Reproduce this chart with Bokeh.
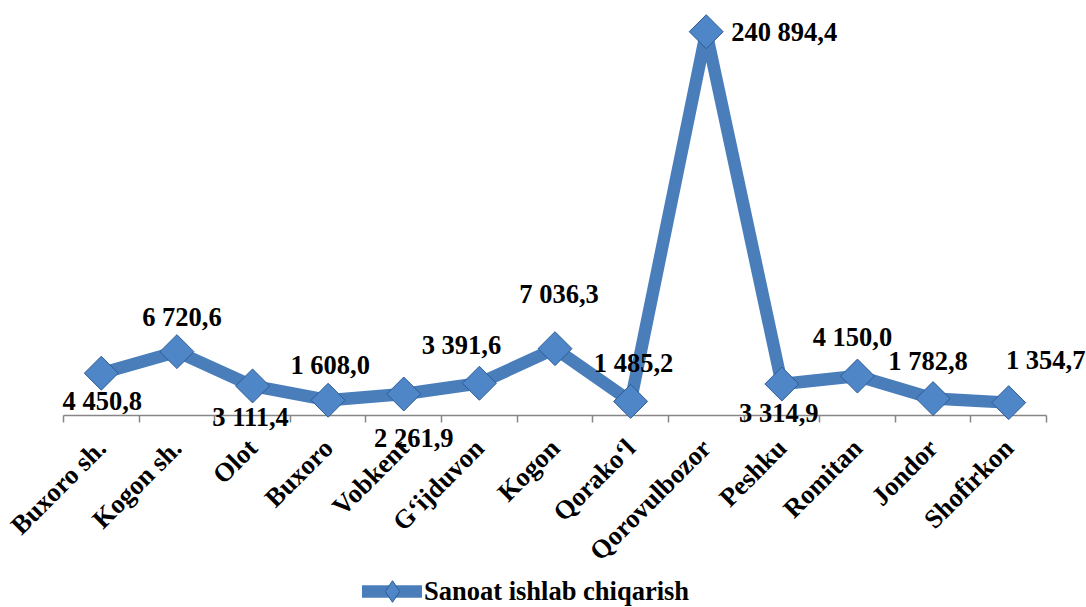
import math
from bokeh.plotting import figure
from bokeh.models import (ColumnDataSource, Range1d, FixedTicker,
                          Legend, LegendItem)
from bokeh.core.properties import value
from bokeh.embed import file_html
from bokeh.resources import INLINE

# ---- data -------------------------------------------------------------
categories = ["Buxoro sh.", "Kogon sh.", "Olot", "Buxoro", "Vobkent",
              "G\u2018ijduvon", "Kogon", "Qorako\u2018l", "Qorovulbozor",
              "Peshku", "Romitan", "Jondor", "Shofirkon"]
# heights as drawn in the picture (Qorovulbozor is drawn far lower than its printed label)
values = [4450.8, 6720.6, 3111.4, 1608.0, 2261.9, 3391.6, 7036.3, 1485.2,
          40400.0, 3314.9, 4150.0, 1782.8, 1354.7]
# printed data labels
value_labels = ["4 450,8", "6 720,6", "3 111,4", "1 608,0", "2 261,9",
                "3 391,6", "7 036,3", "1 485,2", "240 894,4", "3 314,9",
                "4 150,0", "1 782,8", "1 354,7"]
series_name = "Sanoat ishlab chiqarish"

# label placement (screen px offsets from the point, y down)
label_dx = [1, 5, -2, 2, 10, -18, 4, 3, 78, -3, -5, -5, 37]
label_dy = [28, -35, 31, -35, 44, -38, -55, -38, 0, 29, -39, -38, -43]

FONT = "Liberation Serif"
FSIZE = "26.5px"
BLUE = "#4A7EBB"
MARK_FILL = "#4F86C8"
MARK_LINE = "#2E5C94"

# layout (pixels): category pitch, axis position
W, H = 1086, 607
PLOT_LEFT, PLOT_RIGHT, AXIS_Y = 63, 1046, 415
PX_PER_UNIT = 0.0095

n = len(categories)
pitch = (PLOT_RIGHT - PLOT_LEFT) / n
x_start = -PLOT_LEFT / pitch
x_end = n + (W - PLOT_RIGHT) / pitch
y_end = AXIS_Y / PX_PER_UNIT
y_start = -(H - AXIS_Y) / PX_PER_UNIT

xs = [i + 0.5 for i in range(n)]
src = ColumnDataSource(dict(x=xs, y=values, lab=value_labels,
                            dx=label_dx, dy=label_dy))

p = figure(width=W, height=H, output_backend="svg", toolbar_location=None,
           x_range=Range1d(x_start, x_end), y_range=Range1d(y_start, y_end),
           min_border=0)
p.outline_line_color = None
p.xgrid.visible = False
p.ygrid.visible = False
p.yaxis.visible = False

line_r = p.line("x", "y", source=src, line_color=BLUE, line_width=12.5,
                line_join="round", line_cap="round", level="overlay")
# diamond marker used for the legend swatch (Bokeh draws legend markers
# unrotated); on the chart it sits fully under the rotated square markers
legend_mark = p.scatter("x", "y", source=src, marker="diamond", size=26,
                        fill_color=MARK_FILL, line_color=MARK_LINE,
                        line_width=1, level="overlay")
mark_r = p.scatter("x", "y", source=src, marker="square", angle=math.pi / 4,
                   size=24, fill_color=MARK_FILL, line_color=MARK_LINE,
                   line_width=1, level="overlay")

p.text("x", "y", text="lab", source=src, x_offset="dx", y_offset="dy",
       text_align="center", text_baseline="middle", text_font=value(FONT),
       text_font_style="bold", text_font_size=FSIZE, text_color="black",
       level="overlay")

ax = p.xaxis[0]
ax.fixed_location = 0
ax.bounds = (0, n)
ax.ticker = FixedTicker(ticks=xs, minor_ticks=list(range(n + 1)))
ax.major_label_overrides = {x: c for x, c in zip(xs, categories)}
ax.major_label_orientation = math.pi / 4
ax.major_label_text_font = FONT
ax.major_label_text_font_style = "bold"
ax.major_label_text_font_size = FSIZE
ax.major_label_text_color = "black"
ax.major_label_standoff = 21
ax.major_tick_line_color = None
ax.minor_tick_line_color = "#868686"
ax.minor_tick_line_width = 1.5
ax.minor_tick_in = 0
ax.minor_tick_out = 7
ax.axis_line_color = "#868686"
ax.axis_line_width = 1.5

legend = Legend(items=[LegendItem(label=series_name,
                                  renderers=[line_r, legend_mark])],
                location=(362, -11), glyph_width=60, glyph_height=54,
                label_standoff=2, padding=0, margin=0, border_line_color=None,
                background_fill_alpha=0, label_text_font=FONT,
                label_text_font_style="bold", label_text_font_size=FSIZE,
                label_text_color="black", label_height=30)
p.add_layout(legend, "center")

open("out.html", "w").write(file_html(p, INLINE))
